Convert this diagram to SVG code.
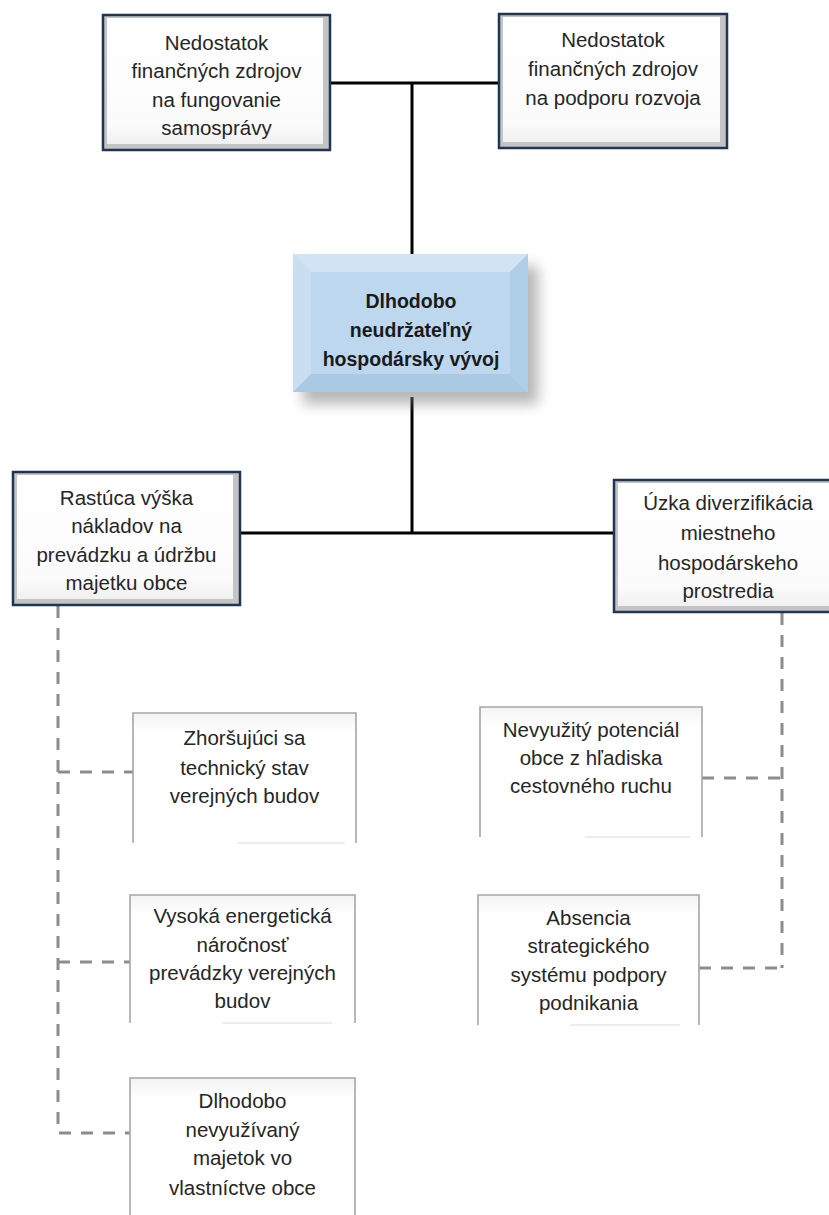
<svg xmlns="http://www.w3.org/2000/svg" width="829" height="1215" viewBox="0 0 829 1215">
<style>
.t{font-family:"Liberation Sans",Arial,sans-serif;font-size:20.5px;fill:#262626;text-anchor:middle}
.tb{font-family:"Liberation Sans",Arial,sans-serif;font-size:19.5px;font-weight:bold;fill:#1a1a1a;text-anchor:middle}
.solid{stroke:#000;stroke-width:3;fill:none}
.dash{stroke:#8c8c8c;stroke-width:3;fill:none;stroke-dasharray:12 10}
.outer{fill:#c4c4c4;stroke:#1f3550;stroke-width:2.5}
.inner{fill:url(#face)}
.lside{fill:none;stroke:#a6a6a6;stroke-width:1.6}
</style>
<defs>
<linearGradient id="face" x1="0" y1="0" x2="0" y2="1">
<stop offset="0" stop-color="#ffffff"/>
<stop offset="0.85" stop-color="#fbfbfb"/>
<stop offset="1" stop-color="#f0f0f0"/>
</linearGradient>
<linearGradient id="lface" x1="0" y1="0" x2="0" y2="1">
<stop offset="0" stop-color="#f3f3f3"/>
<stop offset="0.15" stop-color="#ffffff"/>
<stop offset="1" stop-color="#ffffff"/>
</linearGradient>
<filter id="sh" x="-20%" y="-20%" width="150%" height="160%">
<feGaussianBlur stdDeviation="7"/>
</filter>
</defs>

<g id="connectors">
<path class="solid" d="M330 83 H499"/>
<path class="solid" d="M412 83 V256"/>
<path class="solid" d="M412 397 V533"/>
<path class="solid" d="M240 533 H614"/>
<path class="dash" d="M58 606 V1133 H130"/>
<path class="dash" d="M58 772 H133"/>
<path class="dash" d="M58 962 H130"/>
<path class="dash" d="M782 613 V968"/>
<path class="dash" d="M699 968 H782"/>
<path class="dash" d="M702 778 H782"/>
</g>

<g id="n1">
<rect class="outer" x="103" y="15" width="227" height="135"/>
<rect class="inner" x="107" y="18" width="216" height="126"/>
<text class="t" x="216.5" y="50">Nedostatok</text>
<text class="t" x="216.5" y="78">finančných zdrojov</text>
<text class="t" x="216.5" y="107">na fungovanie</text>
<text class="t" x="216.5" y="135">samosprávy</text>
</g>

<g id="n2">
<rect class="outer" x="499" y="14" width="228" height="134"/>
<rect class="inner" x="503" y="17" width="217" height="125"/>
<text class="t" x="613" y="47">Nedostatok</text>
<text class="t" x="613" y="76">finančných zdrojov</text>
<text class="t" x="613" y="105">na podporu rozvoja</text>
</g>

<g id="center">
<rect x="303" y="266" width="235" height="138" fill="#7a7a7a" opacity="0.55" filter="url(#sh)"/>
<rect x="293" y="254" width="235" height="138" fill="#bdd7ee"/>
<polygon points="293,254 528,254 510,272 311,272" fill="#d2e4f4"/>
<polygon points="293,254 311,272 311,374 293,392" fill="#c9def1"/>
<polygon points="528,254 528,392 510,374 510,272" fill="#aecde8"/>
<polygon points="293,392 311,374 510,374 528,392" fill="#a9c9e5"/>
<rect x="311" y="272" width="199" height="102" fill="#bdd7ee"/>
<text class="tb" x="411" y="308">Dlhodobo</text>
<text class="tb" x="411" y="337">neudržateľný</text>
<text class="tb" x="411" y="366">hospodársky vývoj</text>
</g>

<g id="n3">
<rect class="outer" x="13" y="472" width="227" height="133"/>
<rect class="inner" x="17" y="475" width="216" height="124"/>
<text class="t" x="126.5" y="505">Rastúca výška</text>
<text class="t" x="126.5" y="533">nákladov na</text>
<text class="t" x="126.5" y="562">prevádzku a údržbu</text>
<text class="t" x="126.5" y="590">majetku obce</text>
</g>

<g id="n4">
<rect class="outer" x="614" y="480" width="230" height="132"/>
<rect class="inner" x="618" y="483" width="219" height="123"/>
<text class="t" x="728" y="510">Úzka diverzifikácia</text>
<text class="t" x="728" y="540">miestneho</text>
<text class="t" x="728" y="570">hospodárskeho</text>
<text class="t" x="728" y="598">prostredia</text>
</g>

<g id="n5">
<rect x="133" y="713" width="223" height="130" fill="url(#lface)"/>
<path class="lside" d="M133 843 V713 H356 V843"/>
<line x1="237" y1="843" x2="345" y2="843" stroke="#e6e6f4" stroke-width="1.5"/>
<text class="t" x="244.5" y="745">Zhoršujúci sa</text>
<text class="t" x="244.5" y="775">technický stav</text>
<text class="t" x="244.5" y="803">verejných budov</text>
</g>

<g id="n6">
<rect x="480" y="707" width="222" height="130" fill="url(#lface)"/>
<path class="lside" d="M480 837 V707 H702 V837"/>
<line x1="585" y1="837" x2="690" y2="837" stroke="#e6e6f4" stroke-width="1.5"/>
<text class="t" x="591" y="737">Nevyužitý potenciál</text>
<text class="t" x="591" y="765">obce z hľadiska</text>
<text class="t" x="591" y="793">cestovného ruchu</text>
</g>

<g id="n7">
<rect x="130" y="895" width="225" height="128" fill="url(#lface)"/>
<path class="lside" d="M130 1023 V895 H355 V1023"/>
<line x1="222" y1="1023" x2="332" y2="1023" stroke="#e6e6f4" stroke-width="1.5"/>
<text class="t" x="242.5" y="923">Vysoká energetická</text>
<text class="t" x="242.5" y="952">náročnosť</text>
<text class="t" x="242.5" y="980">prevádzky verejných</text>
<text class="t" x="242.5" y="1008">budov</text>
</g>

<g id="n8">
<rect x="478" y="895" width="221" height="130" fill="url(#lface)"/>
<path class="lside" d="M478 1025 V895 H699 V1025"/>
<line x1="570" y1="1025" x2="680" y2="1025" stroke="#e6e6f4" stroke-width="1.5"/>
<text class="t" x="588.5" y="925">Absencia</text>
<text class="t" x="588.5" y="953">strategického</text>
<text class="t" x="588.5" y="982">systému podpory</text>
<text class="t" x="588.5" y="1010">podnikania</text>
</g>

<g id="n9">
<rect x="130" y="1078" width="225" height="137" fill="url(#lface)"/>
<path class="lside" d="M130 1215 V1078 H355 V1215"/>
<text class="t" x="242.5" y="1108">Dlhodobo</text>
<text class="t" x="242.5" y="1137">nevyužívaný</text>
<text class="t" x="242.5" y="1165">majetok vo</text>
<text class="t" x="242.5" y="1195">vlastníctve obce</text>
</g>
</svg>
